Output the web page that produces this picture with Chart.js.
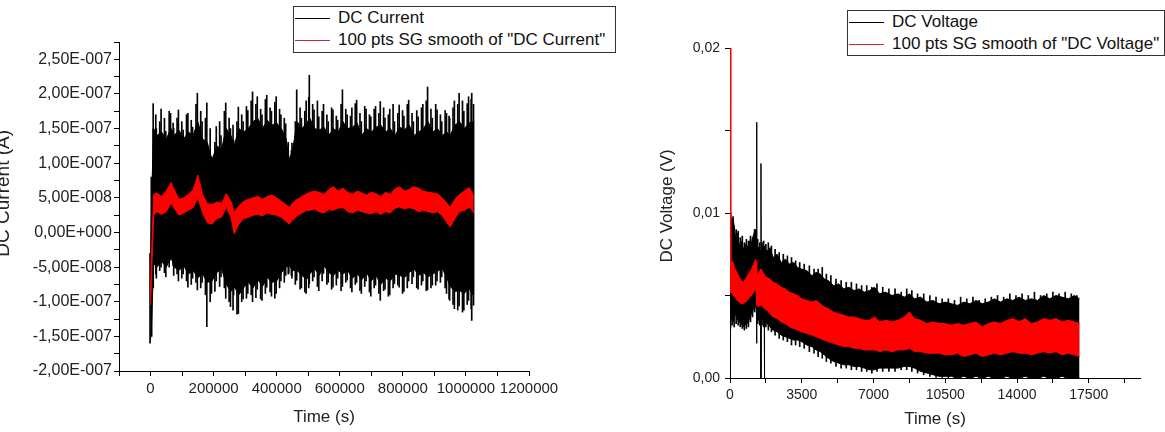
<!DOCTYPE html>
<html>
<head>
<meta charset="utf-8">
<title>DC current and DC voltage</title>
<script src="https://cdn.jsdelivr.net/npm/chart.js@4.4.1/dist/chart.umd.min.js"></script>
<style>
  html, body { margin: 0; padding: 0; background: #fff; }
  body { position: relative; width: 1165px; height: 432px; overflow: hidden; font-family: "Liberation Sans", Arial, sans-serif; }
  canvas { position: absolute; top: 0; }
  #current-chart { left: -8px; }
  #voltage-chart { left: 650px; }
  .key { position: absolute; box-sizing: border-box; border: 1px solid #333; background: #fff; font-size: 17px; color: #111; }
  .key .row { height: 22px; display: flex; align-items: center; white-space: nowrap; }
  .key .swatch { width: 35px; height: 0; border-top: 1px solid; margin: 0 8px 0 1px; }
</style>
</head>
<body>
<canvas id="current-chart" width="604" height="432"></canvas>
<canvas id="voltage-chart" width="515" height="432"></canvas>
<div class="key" id="current-key" style="left:293px;top:6px;width:323px;height:47px"></div>
<div class="key" id="voltage-key" style="left:847px;top:10px;width:318px;height:46px"></div>
<script>
// ---- DC current run (time in s, current in nA) ----
const currentTime = [0, 4000, 10000, 20000, 35000, 50000, 65000, 75000, 90000, 105000,
    120000, 135000, 150000, 165000, 180000, 195000, 210000, 225000, 240000, 255000,
    265000, 280000, 295000, 310000, 325000, 340000, 355000, 370000, 385000, 400000,
    415000, 430000, 440000, 450000, 465000, 480000, 495000, 505000, 520000, 535000,
    550000, 565000, 580000, 595000, 610000, 625000, 640000, 655000, 670000, 685000,
    700000, 715000, 730000, 745000, 760000, 775000, 790000, 805000, 820000, 835000,
    850000, 865000, 880000, 895000, 910000, 925000, 940000, 950000, 965000, 980000,
    995000, 1010000, 1020000, 1025000];
// extremes of the raw trace around each time (the spikes)
const currentMax = [-30, 80, 186, 150, 178, 146, 172, 150, 177, 148,
    172, 152, 201, 160, 187, 109, 153, 140, 187, 150,
    133, 181, 160, 176, 203, 196, 170, 198, 175, 196,
    170, 157, 109, 129, 206, 165, 190, 227, 177, 167,
    185, 160, 177, 162, 206, 170, 180, 191, 160, 178,
    167, 182, 189, 165, 178, 160, 184, 168, 191, 160,
    167, 185, 210, 165, 177, 160, 172, 165, 190, 201,
    175, 196, 201, 160];
const currentMin = [-160, -130, -58, -66, -50, -64, -40, -62, -70, -60,
    -79, -66, -83, -72, -136, -88, -70, -64, -95, -107,
    -90, -117, -96, -88, -100, -82, -98, -79, -92, -88,
    -70, -62, -59, -66, -69, -80, -88, -74, -64, -84,
    -59, -72, -79, -66, -78, -69, -86, -72, -88, -70,
    -92, -76, -98, -82, -90, -74, -79, -85, -70, -64,
    -82, -70, -83, -76, -70, -64, -88, -98, -110, -106,
    -112, -98, -127, -90];
// further spikes in between
const currentSpikeTime = [2000, 7000, 15000, 27500, 42500, 57500, 70000, 82500, 97500, 112500,
    127500, 142500, 157500, 172500, 187500, 202500, 217500, 232500, 247500, 260000,
    272500, 287500, 302500, 317500, 332500, 347500, 362500, 377500, 392500, 407500,
    422500, 435000, 445000, 457500, 472500, 487500, 500000, 512500, 527500, 542500,
    557500, 572500, 587500, 602500, 617500, 632500, 647500, 662500, 677500, 692500,
    707500, 722500, 737500, 752500, 767500, 782500, 797500, 812500, 827500, 842500,
    857500, 872500, 887500, 902500, 917500, 932500, 945000, 957500, 972500, 987500,
    1002500, 1015000, 1022500];
const currentSpikeMax = [20, 150, 170, 160, 165, 175, 158, 165, 160, 170,
    162, 185, 175, 165, 150, 130, 160, 175, 165, 155,
    160, 170, 182, 190, 185, 178, 192, 180, 188, 178,
    165, 130, 118, 160, 180, 175, 195, 185, 190, 175,
    170, 180, 168, 185, 178, 168, 186, 172, 182, 170,
    178, 172, 180, 170, 185, 172, 176, 185, 172, 176,
    180, 190, 178, 185, 170, 176, 168, 180, 185, 190,
    186, 192, 185];
const currentSpikeMin = [-150, -80, -60, -55, -58, -50, -48, -60, -66, -70,
    -75, -72, -80, -90, -100, -85, -78, -80, -100, -112,
    -118, -100, -95, -90, -94, -96, -88, -86, -95, -80,
    -72, -60, -62, -75, -82, -86, -80, -70, -78, -70,
    -75, -82, -76, -84, -72, -80, -75, -84, -78, -86,
    -80, -88, -84, -92, -80, -76, -88, -80, -74, -80,
    -76, -84, -80, -76, -72, -80, -96, -104, -112, -115,
    -104, -110, -105];
// edges of the dense part of the raw trace
const currentCoreHigh = [-40, 60, 150, 140, 145, 135, 150, 140, 148, 135,
    145, 140, 160, 135, 130, 105, 125, 120, 150, 140,
    125, 150, 145, 150, 160, 165, 150, 162, 155, 158,
    150, 135, 105, 118, 160, 150, 158, 165, 150, 148,
    152, 140, 150, 145, 160, 150, 152, 158, 140, 150,
    145, 152, 155, 145, 150, 140, 152, 148, 155, 140,
    145, 150, 160, 145, 150, 140, 145, 140, 155, 160,
    150, 158, 160, 150];
const currentCoreLow = [-155, -120, -45, -50, -42, -50, -35, -50, -55, -48,
    -60, -55, -65, -60, -72, -70, -58, -52, -75, -85,
    -78, -90, -80, -72, -80, -68, -78, -65, -72, -70,
    -58, -50, -48, -55, -55, -62, -68, -60, -52, -62,
    -48, -58, -62, -55, -60, -55, -66, -60, -68, -58,
    -70, -62, -75, -66, -70, -60, -62, -65, -58, -52,
    -62, -58, -64, -60, -56, -52, -66, -78, -85, -84,
    -88, -80, -90, -75];
// edges of the 100 pts Savitzky-Golay smooth
const currentSmoothHigh = [-90, -20, 55, 57, 52, 60, 72, 62, 48, 50,
    55, 62, 83, 55, 42, 40, 44, 42, 56, 45,
    30, 38, 45, 48, 50, 52, 48, 52, 54, 50,
    45, 40, 36, 42, 48, 52, 56, 58, 60, 58,
    55, 62, 66, 60, 64, 58, 55, 60, 57, 54,
    58, 56, 52, 58, 55, 63, 66, 60, 62, 66,
    64, 60, 58, 57, 56, 50, 42, 36, 48, 55,
    60, 65, 58, 50];
const currentSmoothLow = [-105, -50, 25, 30, 26, 30, 42, 35, 25, 28,
    32, 36, 50, 28, 14, 12, 20, 22, 36, 22,
    -2, 12, 20, 22, 25, 26, 24, 28, 26, 25,
    22, 16, 12, 18, 24, 28, 32, 32, 34, 30,
    28, 33, 32, 35, 36, 30, 28, 32, 30, 28,
    27, 30, 26, 30, 28, 35, 37, 34, 36, 34,
    30, 32, 30, 28, 30, 24, 14, 8, 20, 30,
    32, 36, 32, 28];

const currentXMajor = [0, 200000, 400000, 600000, 800000, 1000000, 1200000];
const currentXMinor = [-100000, 100000, 300000, 500000, 700000, 900000, 1100000];
const currentYMajor = [-200, -150, -100, -50, 0, 50, 100, 150, 200, 250];
const currentYLabels = ['-2,00E-007', '-1,50E-007', '-1,00E-007', '-5,00E-008', '0,00E+000',
    '5,00E-008', '1,00E-007', '1,50E-007', '2,00E-007', '2,50E-007'];
const currentYMinor = [-175, -125, -75, -25, 25, 75, 125, 175, 225, 275];

// ---- DC voltage run (time in s, voltage in V) ----
const voltTime = [0, 40, 150, 250, 350, 450, 550, 650, 750, 850,
    950, 1050, 1150, 1250, 1290, 1300, 1310, 1400, 1500, 1510,
    1520, 1600, 1670, 1680, 1690, 1800, 1950, 2100, 2300, 2500,
    2700, 2900, 3100, 3300, 3500, 3750, 4000, 4200, 4400, 4600,
    4800, 5050, 5300, 5550, 5800, 6050, 6300, 6550, 6800, 7050,
    7300, 7600, 7900, 8200, 8500, 8750, 9000, 9300, 9600, 9900,
    10200, 10500, 10800, 11100, 11400, 11700, 12000, 12300, 12600, 12900,
    13200, 13500, 13800, 14100, 14400, 14700, 15000, 15300, 15600, 15900,
    16200, 16500, 16800, 17050];
const voltHigh = [0.0100, 0.0094, 0.0098, 0.0086, 0.0088, 0.0080, 0.0083, 0.0078, 0.0081, 0.0079,
    0.0083, 0.0082, 0.0087, 0.0090, 0.0086, 0.0155, 0.0080, 0.0079, 0.0077, 0.0130,
    0.0078, 0.0081, 0.0079, 0.0080, 0.0078, 0.0077, 0.0079, 0.0073, 0.0075, 0.0070,
    0.0072, 0.0069, 0.0070, 0.0067, 0.0066, 0.0065, 0.0062, 0.0064, 0.0063, 0.0060,
    0.0059, 0.0056, 0.0057, 0.0054, 0.0055, 0.0053, 0.0054, 0.0052, 0.0053, 0.0055,
    0.0051, 0.0052, 0.0050, 0.0051, 0.0049, 0.0051, 0.0048, 0.0049, 0.0046, 0.0047,
    0.0045, 0.0046, 0.0045, 0.0044, 0.0046, 0.0045, 0.0047, 0.0045, 0.0046, 0.0048,
    0.0046, 0.0048, 0.0047, 0.0049, 0.0047, 0.0048, 0.0047, 0.0050, 0.0048, 0.0050,
    0.0049, 0.0048, 0.0050, 0.0048];
const voltLow = [0.0030, 0.0037, 0.0034, 0.0039, 0.0036, 0.0034, 0.0033, 0.0031, 0.0032, 0.0033,
    0.0036, 0.0039, 0.0042, 0.0044, 0.0040, 0.0021, 0.0036, 0.0035, 0.0036, 0.0000,
    0.0035, 0.0036, 0.0034, 0.0000, 0.0034, 0.0033, 0.0031, 0.0029, 0.0028, 0.0026,
    0.0025, 0.0024, 0.0023, 0.0023, 0.0022, 0.0020, 0.0019, 0.0017, 0.0016, 0.0014,
    0.0012, 0.0010, 0.0009, 0.0008, 0.0008, 0.0007, 0.0007, 0.0006, 0.0005, 0.0005,
    0.0006, 0.0006, 0.0006, 0.0006, 0.0007, 0.0007, 0.0006, 0.0004, 0.0003, 0.0002,
    0.0001, 0.0001, 0.0001, 0.0000, 0.0001, 0.0000, 0.0001, 0.0000, 0.0001, 0.0000,
    0.0000, 0.0001, 0.0000, 0.0000, 0.0001, 0.0000, 0.0000, 0.0001, 0.0000, 0.0000,
    0.0001, 0.0000, 0.0000, 0.0000];
// short spikes of the raw voltage trace in between
const voltSpikeTime = [100, 200, 300, 400, 500, 600, 700, 800, 900, 1000,
    1100, 1200, 1350, 1450, 1560, 1640, 1750, 1870, 2020, 2200,
    2400, 2600, 2800, 3000, 3200, 3400, 3620, 3870, 4100, 4300,
    4500, 4700, 4920, 5170, 5420, 5670, 5920, 6170, 6420, 6670,
    6920, 7170, 7450, 7750, 8050, 8350, 8620, 8870, 9150, 9450,
    9750, 10050, 10350, 10650, 10950, 11250, 11550, 11850, 12150, 12450,
    12750, 13050, 13350, 13650, 13950, 14250, 14550, 14850, 15150, 15450,
    15750, 16050, 16350, 16650, 16920];
const voltSpikeMax = [0.0096, 0.0092, 0.0090, 0.0089, 0.0085, 0.0086, 0.0082, 0.0084, 0.0083, 0.0086,
    0.0085, 0.0090, 0.0084, 0.0082, 0.0082, 0.0083, 0.0081, 0.0082, 0.0080, 0.0078,
    0.0076, 0.0075, 0.0074, 0.0073, 0.0071, 0.0070, 0.0069, 0.0068, 0.0066, 0.0066,
    0.0067, 0.0063, 0.0062, 0.0060, 0.0059, 0.0058, 0.0058, 0.0057, 0.0056, 0.0056,
    0.0055, 0.0057, 0.0055, 0.0054, 0.0054, 0.0052, 0.0054, 0.0053, 0.0051, 0.0051,
    0.0050, 0.0049, 0.0048, 0.0048, 0.0047, 0.0049, 0.0048, 0.0049, 0.0047, 0.0048,
    0.0049, 0.0050, 0.0049, 0.0051, 0.0050, 0.0051, 0.0050, 0.0052, 0.0050, 0.0051,
    0.0052, 0.0051, 0.0052, 0.0051, 0.0050];
const voltSpikeMin = [0.0032, 0.0031, 0.0033, 0.0032, 0.0031, 0.0030, 0.0029, 0.0030, 0.0031, 0.0034,
    0.0037, 0.0040, 0.0033, 0.0032, 0.0032, 0.0031, 0.0031, 0.0029, 0.0028, 0.0026,
    0.0024, 0.0023, 0.0022, 0.0020, 0.0020, 0.0019, 0.0018, 0.0016, 0.0015, 0.0013,
    0.0012, 0.0010, 0.0009, 0.0007, 0.0006, 0.0006, 0.0005, 0.0005, 0.0004, 0.0004,
    0.0003, 0.0004, 0.0004, 0.0004, 0.0004, 0.0005, 0.0005, 0.0004, 0.0003, 0.0002,
    0.0001, 0.0000, 0.0000, 0.0000, 0.0000, 0.0000, 0.0000, 0.0000, 0.0000, 0.0000,
    0.0000, 0.0000, 0.0000, 0.0000, 0.0000, 0.0000, 0.0000, 0.0000, 0.0000, 0.0000,
    0.0000, 0.0000, 0.0000, 0.0000, 0.0000];
const voltSmoothHigh = [0.0200, 0.0072, 0.0070, 0.0066, 0.0064, 0.0061, 0.0059, 0.0058, 0.0060, 0.0062,
    0.0064, 0.0066, 0.0069, 0.0072, 0.0070, 0.0068, 0.0062, 0.0064, 0.0066, 0.0065,
    0.0066, 0.0064, 0.0063, 0.0063, 0.0062, 0.0061, 0.0060, 0.0058, 0.0057, 0.0055,
    0.0054, 0.0052, 0.0051, 0.0050, 0.0048, 0.0047, 0.0046, 0.0047, 0.0045, 0.0043,
    0.0042, 0.0040, 0.0039, 0.0038, 0.0037, 0.0037, 0.0036, 0.0035, 0.0035, 0.0037,
    0.0034, 0.0035, 0.0034, 0.0035, 0.0037, 0.0040, 0.0036, 0.0035, 0.0033, 0.0034,
    0.0033, 0.0033, 0.0032, 0.0033, 0.0032, 0.0033, 0.0034, 0.0031, 0.0033, 0.0034,
    0.0033, 0.0035, 0.0036, 0.0034, 0.0036, 0.0033, 0.0034, 0.0036, 0.0035, 0.0036,
    0.0034, 0.0035, 0.0034, 0.0033];
const voltSmoothLow = [0.0060, 0.0052, 0.0050, 0.0049, 0.0047, 0.0046, 0.0045, 0.0045, 0.0046, 0.0047,
    0.0049, 0.0050, 0.0052, 0.0054, 0.0050, 0.0046, 0.0044, 0.0043, 0.0045, 0.0044,
    0.0045, 0.0043, 0.0042, 0.0042, 0.0042, 0.0041, 0.0039, 0.0037, 0.0036, 0.0034,
    0.0033, 0.0031, 0.0030, 0.0029, 0.0028, 0.0027, 0.0026, 0.0025, 0.0024, 0.0023,
    0.0022, 0.0021, 0.0020, 0.0019, 0.0019, 0.0018, 0.0018, 0.0017, 0.0017, 0.0017,
    0.0016, 0.0017, 0.0016, 0.0017, 0.0017, 0.0018, 0.0016, 0.0016, 0.0015, 0.0015,
    0.0015, 0.0014, 0.0014, 0.0015, 0.0013, 0.0014, 0.0015, 0.0013, 0.0014, 0.0015,
    0.0014, 0.0015, 0.0016, 0.0015, 0.0015, 0.0014, 0.0015, 0.0016, 0.0015, 0.0016,
    0.0014, 0.0015, 0.0014, 0.0013];

const voltXMajor = [0, 3500, 7000, 10500, 14000, 17500];
const voltXMinor = [1750, 5250, 8750, 12250, 15750, 19250];
const voltYMajor = [0, 0.01, 0.02];
const voltYLabels = ['0,00', '0,01', '0,02'];
const voltYMinor = [0.005, 0.015];

const RAW_COLOUR = '#000000';
const SMOOTH_COLOUR = '#ff0000';

Chart.defaults.font.family = '"Liberation Sans", Arial, sans-serif';
Chart.defaults.color = '#222';

function points(times, values) {
    return times.map((t, i) => ({ x: t, y: values[i] }));
}

// a noisy trace is drawn as the band between its upper and lower edge
function band(label, times, high, low, colour, keyColour, order) {
    const common = { borderColor: colour, backgroundColor: colour, borderWidth: 1, pointRadius: 0, order };
    return [
        Object.assign({ label, keyColour, data: points(times, high), fill: '+1' }, common),
        Object.assign({ label: '', data: points(times, low), fill: false }, common)
    ];
}

// spikes of the raw trace: one thin floating bar from min to max at each time
function spikes([times, min, max], colour) {
    return {
        type: 'bar',
        label: '',
        data: times.map((t, i) => ({ x: t, y: [min[i], max[i]] })),
        backgroundColor: colour,
        borderWidth: 0,
        barThickness: 1,
        order: 3
    };
}

function axis(a) {
    const all = a.major.concat(a.minor).sort((p, q) => p - q);
    return {
        type: 'linear',
        min: a.min,
        max: a.max,
        offset: false,
        afterBuildTicks(scale) {
            scale.ticks = all.map(v => ({ value: v }));
        },
        afterFit(scale) {
            if (scale.isHorizontal()) {
                scale.height = a.size;
            } else {
                scale.width = a.size;
            }
        },
        ticks: {
            autoSkip: false,
            maxRotation: 0,
            padding: a.tickPadding,
            color: '#222',
            font: { size: a.tickSize },
            callback(value) {
                const i = a.major.indexOf(value);
                return i < 0 ? '' : a.labels[i];
            }
        },
        grid: { offset: false, drawOnChartArea: false, drawTicks: true, tickLength: 5, color: '#000', tickColor: '#000' },
        border: { display: true, color: '#000', width: 1 },
        title: { display: true, text: a.title, color: '#222', font: { size: a.titleSize }, padding: a.titlePadding }
    };
}

function drawKey(el, datasets) {
    datasets.filter(ds => ds.label).forEach((ds) => {
        const row = document.createElement('div');
        row.className = 'row';
        const swatch = document.createElement('span');
        swatch.className = 'swatch';
        swatch.style.borderTopColor = ds.keyColour;
        const text = document.createElement('span');
        text.textContent = ds.label;
        row.appendChild(swatch);
        row.appendChild(text);
        el.appendChild(row);
    });
}

function makeChart(canvasId, keyId, cfg) {
    const datasets = band(cfg.rawLabel, cfg.time, cfg.high, cfg.low, RAW_COLOUR, '#000', 2)
        .concat(band(cfg.smoothLabel, cfg.time, cfg.smoothHigh, cfg.smoothLow, SMOOTH_COLOUR, '#c8283c', 1))
        .concat(cfg.spikes.map(s => spikes(s, RAW_COLOUR)));

    new Chart(document.getElementById(canvasId), {
        type: 'line',
        data: { datasets },
        options: {
            responsive: false,
            animation: false,
            layout: { padding: cfg.padding },
            elements: { line: { tension: 0 } },
            plugins: {
                legend: { display: false },
                tooltip: { enabled: false }
            },
            scales: { x: axis(cfg.x), y: axis(cfg.y) }
        }
    });

    drawKey(document.getElementById(keyId), datasets);
}

makeChart('current-chart', 'current-key', {
    rawLabel: 'DC Current',
    smoothLabel: '100 pts SG smooth of "DC Current"',
    time: currentTime,
    high: currentCoreHigh,
    low: currentCoreLow,
    spikes: [
        [currentTime, currentMin, currentMax],
        [currentSpikeTime, currentSpikeMin, currentSpikeMax]
    ],
    smoothHigh: currentSmoothHigh,
    smoothLow: currentSmoothLow,
    padding: { top: 42, right: 67, bottom: 0, left: 0 },
    x: {
        min: -100000, max: 1200000, major: currentXMajor, minor: currentXMinor,
        labels: currentXMajor.map(String), title: 'Time (s)', titleSize: 17,
        size: 61, tickSize: 15, tickPadding: 4, titlePadding: { top: 0, bottom: 4 }
    },
    y: {
        min: -200, max: 275, major: currentYMajor, minor: currentYMinor,
        labels: currentYLabels, title: '     DC Current (A)', titleSize: 19,
        size: 127, tickSize: 16, tickPadding: 2, titlePadding: { top: 0, bottom: 0 }
    }
});

makeChart('voltage-chart', 'voltage-key', {
    rawLabel: 'DC Voltage',
    smoothLabel: '100 pts SG smooth of "DC Voltage"',
    time: voltTime,
    high: voltHigh,
    low: voltLow,
    spikes: [
        [voltSpikeTime, voltSpikeMin, voltSpikeMax]
    ],
    smoothHigh: voltSmoothHigh,
    smoothLow: voltSmoothLow,
    padding: { top: 48, right: 25, bottom: 0, left: 0 },
    x: {
        min: 0, max: 20000, major: voltXMajor, minor: voltXMinor,
        labels: voltXMajor.map(String), title: 'Time (s)', titleSize: 17,
        size: 54, tickSize: 14, tickPadding: 4, titlePadding: { top: 0, bottom: 2 }
    },
    y: {
        min: 0, max: 0.02, major: voltYMajor, minor: voltYMinor,
        labels: voltYLabels, title: '   DC Voltage (V)', titleSize: 17,
        size: 80, tickSize: 14, tickPadding: 5, titlePadding: { top: 7, bottom: 0 }
    }
});
</script>
</body>
</html>
